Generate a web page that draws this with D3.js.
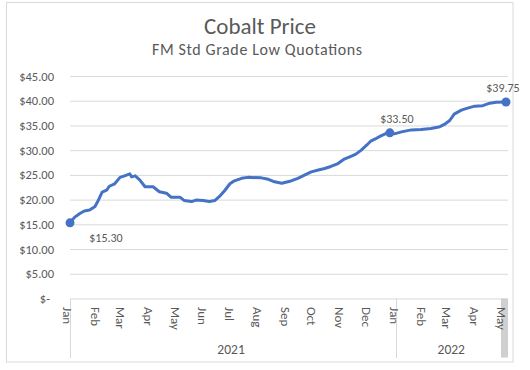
<!DOCTYPE html>
<html>
<head>
<meta charset="utf-8">
<script src="https://cdn.jsdelivr.net/npm/d3@7"></script>
<style>
	body { margin: 0; background: #fff; }
	text { font-family: Calibri, Carlito, Lato, sans-serif; fill: #595959; }
</style>
</head>
<body>
<div id="chart_container"></div>
<script>
// Chart data (weekly quotes)
const dates = [
	'2021-01-01', '2021-01-06', '2021-01-12', '2021-01-17', '2021-01-23', '2021-01-29',
	'2021-02-01', '2021-02-06', '2021-02-11', '2021-02-14', '2021-02-20', '2021-02-26',
	'2021-03-03', '2021-03-09', '2021-03-11', '2021-03-15', '2021-03-20', '2021-03-26',
	'2021-04-04', '2021-04-11', '2021-04-19', '2021-04-24', '2021-05-04', '2021-05-09',
	'2021-05-17', '2021-05-22', '2021-05-30', '2021-06-06', '2021-06-12', '2021-06-17',
	'2021-06-23', '2021-06-29', '2021-07-04', '2021-07-12', '2021-07-19', '2021-08-03',
	'2021-08-11', '2021-08-18', '2021-08-26', '2021-09-04', '2021-09-13', '2021-09-21',
	'2021-09-28', '2021-10-06', '2021-10-13', '2021-10-20', '2021-10-28', '2021-11-04',
	'2021-11-12', '2021-11-17', '2021-11-23', '2021-11-29', '2021-12-04', '2021-12-10',
	'2021-12-15', '2021-12-21', '2021-12-25', '2021-12-30', '2022-01-07', '2022-01-18',
	'2022-01-29', '2022-02-09', '2022-02-19', '2022-02-24', '2022-03-02', '2022-03-07',
	'2022-03-15', '2022-03-22', '2022-03-30', '2022-04-08', '2022-04-16', '2022-04-23',
	'2022-05-04'
]
const prices = [
	15.30, 16.40, 17.20, 17.70, 17.90, 18.60,
	19.60, 21.50, 21.90, 22.70, 23.20, 24.50,
	24.80, 25.20, 24.60, 24.80, 24.00, 22.60,
	22.60, 21.60, 21.30, 20.50, 20.50, 19.80,
	19.60, 19.90, 19.80, 19.60, 19.80, 20.60,
	21.80, 23.20, 23.80, 24.30, 24.50, 24.40,
	24.10, 23.60, 23.30, 23.70, 24.30, 25.00,
	25.60, 26.00, 26.30, 26.70, 27.30, 28.20,
	28.80, 29.20, 30.00, 31.00, 31.90, 32.40,
	32.90, 33.40, 33.50, 33.30, 33.70, 34.10,
	34.20, 34.40, 34.75, 35.20, 36.00, 37.30,
	38.10, 38.50, 38.90, 39.00, 39.50, 39.70,
	39.75
]
// Points that carry a data label
const labelledIdx = [0, 56, 72]
const yTicks = [0, 5, 10, 15, 20, 25, 30, 35, 40, 45]
const monthLabels = ['Jan', 'Feb', 'Mar', 'Apr', 'May', 'Jun', 'Jul', 'Aug', 'Sep', 'Oct', 'Nov', 'Dec',
	'Jan', 'Feb', 'Mar', 'Apr', 'May']
const monthStarts = ['2021-01-01', '2021-02-01', '2021-03-01', '2021-04-01', '2021-05-01', '2021-06-01',
	'2021-07-01', '2021-08-01', '2021-09-01', '2021-10-01', '2021-11-01', '2021-12-01',
	'2022-01-01', '2022-02-01', '2022-03-01', '2022-04-01', '2022-05-01']
const years = ['2021', '2022']
const yearStarts = ['2021-01-01', '2022-01-01', '2022-05-09']

const parseDate = d3.timeParse('%Y-%m-%d')
let rawData = dates.map((d, i) => ({ date: parseDate(d), price: prices[i] }))

// Set Chart Dimensions
const chartWidth = 530
const chartHeight = 370
const plotLeft = 70
const plotRight = 508
const plotTop = 76
const plotBottom = 298.5

// Set XY scales
let scaleX = d3.scaleTime()
	.domain([parseDate('2021-01-01'), parseDate('2022-05-04')])
	.range([plotLeft, 506])
let scaleY = d3.scaleLinear()
	.domain([0, 45])
	.range([plotBottom, plotTop])

// Create Chart Area
let svg = d3.select('#chart_container')
	.append('svg')
	.attr('width', chartWidth)
	.attr('height', chartHeight)

// Outer border
svg.append('rect')
	.attr('x', 6.5)
	.attr('y', 2.5)
	.attr('width', 506.5)
	.attr('height', 359.5)
	.attr('fill', '#fff')
	.attr('stroke', '#d9d9d9')

// Titles
svg.append('text')
	.attr('x', 260)
	.attr('y', 34)
	.attr('text-anchor', 'middle')
	.style('font-size', '23px')
	.text('Cobalt Price')
svg.append('text')
	.attr('x', 257)
	.attr('y', 55)
	.attr('text-anchor', 'middle')
	.style('font-size', '16px')
	.attr('textLength', 210)
	.attr('lengthAdjust', 'spacing')
	.text('FM Std Grade Low Quotations')

// Y axis with gridlines
let yAxis = svg.append('g')
	.attr('transform', 'translate(' + plotLeft + ',0)')
	.call(d3.axisLeft(scaleY)
		.tickValues(yTicks)
		.tickSize(-(plotRight - plotLeft))
		.tickPadding(16)
		.tickFormat((d) => d === 0 ? '$-' : d3.format('$.2f')(d)))
yAxis.select('.domain').remove()
yAxis.selectAll('line')
	.attr('stroke', '#d9d9d9')
yAxis.selectAll('text')
	.style('font-size', '12.5px')
	.attr('fill', '#595959')
	.attr('dx', (d) => d === 0 ? -4 : 0)

// Category axis: separators, end bar, month and year labels
svg.append('rect')
	.attr('x', 501)
	.attr('y', plotBottom)
	.attr('width', 7)
	.attr('height', 59)
	.attr('fill', '#d0d0d0')
svg.selectAll('.year-sep')
	.data(yearStarts.slice(0, 2))
	.enter()
	.append('line')
	.attr('class', 'year-sep')
	.attr('x1', (d) => Math.round(scaleX(parseDate(d))) + 0.5)
	.attr('x2', (d) => Math.round(scaleX(parseDate(d))) + 0.5)
	.attr('y1', plotBottom)
	.attr('y2', 358)
	.attr('stroke', '#d9d9d9')

svg.selectAll('.month')
	.data(monthLabels)
	.enter()
	.append('text')
	.attr('class', 'month')
	.attr('transform', (d, i) => {
		let x = scaleX(parseDate(monthStarts[i])) - 2
		return 'translate(' + x + ',307) rotate(90)'
	})
	.attr('dy', '0.35em')
	.style('font-size', '13px')
	.text((d) => d)

svg.selectAll('.year')
	.data(years)
	.enter()
	.append('text')
	.attr('class', 'year')
	.attr('x', (d, i) => (scaleX(parseDate(yearStarts[i])) + scaleX(parseDate(yearStarts[i + 1]))) / 2 - 2)
	.attr('y', 354)
	.attr('text-anchor', 'middle')
	.style('font-size', '13.5px')
	.text((d) => d)

// Price line
let line = d3.line()
	.x((d) => scaleX(d.date))
	.y((d) => scaleY(d.price))
svg.append('path')
	.datum(rawData)
	.attr('d', line)
	.attr('fill', 'none')
	.attr('stroke', '#4472c4')
	.attr('stroke-width', 3)
	.attr('stroke-linejoin', 'round')
	.attr('stroke-linecap', 'round')

// Markers and data labels
let labelled = labelledIdx.map((i) => rawData[i])
let labelOffsets = [[36, 19], [7, -10], [-3, -10]]
svg.selectAll('.marker')
	.data(labelled)
	.enter()
	.append('circle')
	.attr('class', 'marker')
	.attr('cx', (d) => scaleX(d.date))
	.attr('cy', (d) => scaleY(d.price))
	.attr('r', 4.5)
	.attr('fill', '#4472c4')
svg.selectAll('.data-label')
	.data(labelled)
	.enter()
	.append('text')
	.attr('class', 'data-label')
	.attr('x', (d, i) => scaleX(d.date) + labelOffsets[i][0])
	.attr('y', (d, i) => scaleY(d.price) + labelOffsets[i][1])
	.attr('text-anchor', 'middle')
	.style('font-size', '12px')
	.text((d) => d3.format('$.2f')(d.price))
</script>
</body>
</html>
